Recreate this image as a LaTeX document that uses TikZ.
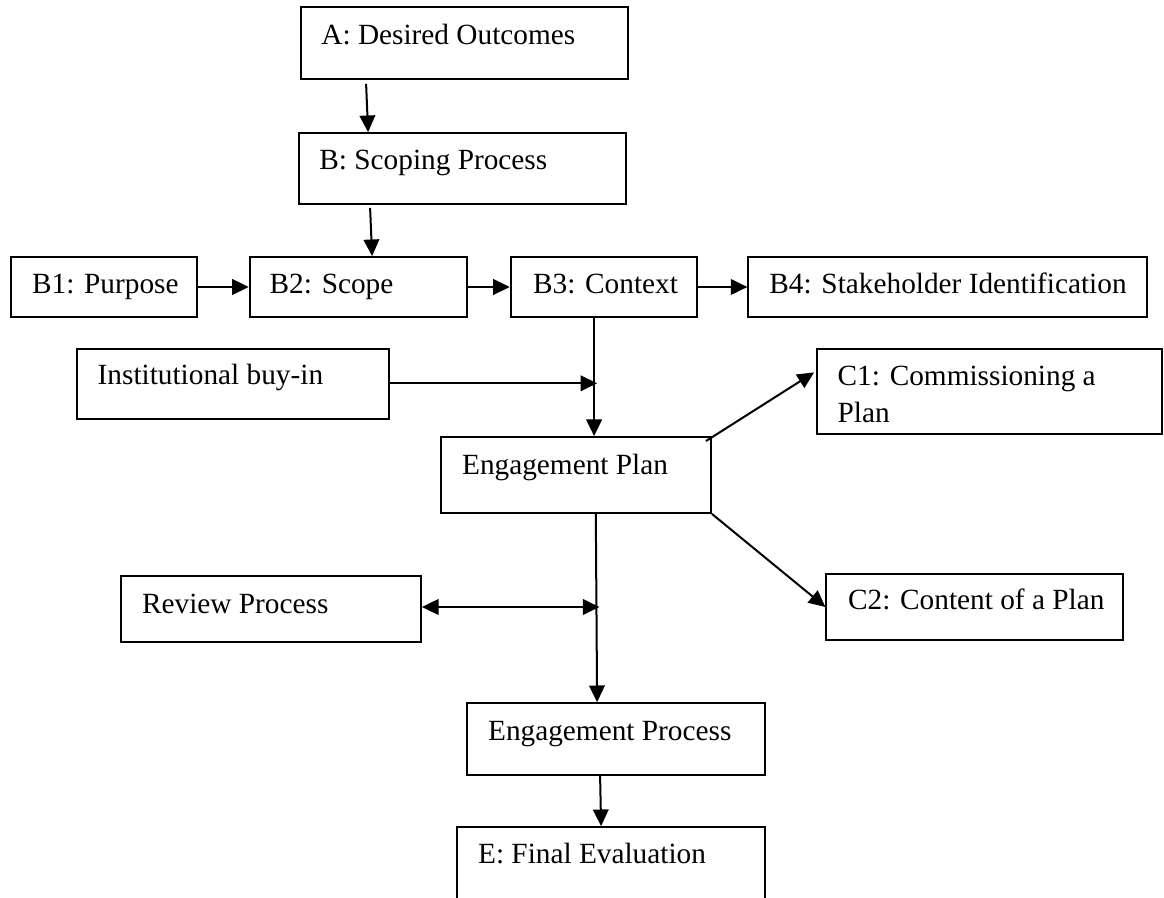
\documentclass[tikz,border=0pt]{standalone}
\usepackage{fontspec}
\setmainfont{Liberation Serif}
\usetikzlibrary{arrows.meta,fit,calc}
\begin{document}
\begin{tikzpicture}[x=0.5pt,y=-0.5pt,
  boxst/.style={draw=black,line width=0.9pt,inner sep=0pt,fill=none},
  txt/.style={anchor=base west,inner sep=0pt,font=\fontsize{14.65}{18.5}\selectfont,align=left},
  arr/.style={line width=1pt,-{Triangle[length=8.3pt,width=7.8pt]}},
  dbl/.style={line width=1pt,{Triangle[length=8.3pt,width=7.8pt]}-{Triangle[length=8.3pt,width=7.8pt]}}]
\useasboundingbox (0,0) rectangle (1164,898);
\clip (0,0) rectangle (1164,898);
% boxes
\node[boxst,fit={(301,7) (628,79)}] (A) {};
\node[boxst,fit={(299,133) (626,204)}] (B) {};
\node[boxst,fit={(10.7,257) (197,317)}] (B1) {};
\node[boxst,fit={(249.7,257) (467.3,317)}] (B2) {};
\node[boxst,fit={(510.7,257) (697,317)}] (B3) {};
\node[boxst,fit={(748.3,257) (1147.3,317)}] (B4) {};
\node[boxst,fit={(76.7,349.3) (389.3,419.3)}] (Inst) {};
\node[boxst,fit={(816.7,349) (1162,434)}] (C1) {};
\node[boxst,fit={(440.7,437) (711,513)}] (EP) {};
\node[boxst,fit={(826.3,574) (1123,640)}] (C2) {};
\node[boxst,fit={(120.7,576) (421,642)}] (Rev) {};
\node[boxst,fit={(466.7,703) (765,775)}] (EPr) {};
\node[boxst,fit={(456.7,827) (765,920)}] (E) {};
% texts
\node[txt] (tA) at (321,45) {A: Desired Outcomes};
\node[txt] (tB) at (319,170) {B: Scoping Process};
\node[txt] (tB1) at (31.7,294) {B1: Purpose};
\node[txt] (tB2) at (269.3,294) {B2: Scope};
\node[txt] (tB3) at (532.7,294) {B3: Context};
\node[txt] (tB4) at (769,294) {B4: Stakeholder Identification};
\node[txt] (tInst) at (97.3,385) {Institutional buy-in};
\node[txt] (tC1) at (837.3,423) {C1: Commissioning a\\Plan};
\node[txt] (tEP) at (461.7,474.3) {Engagement Plan};
\node[txt] (tC2) at (847.7,610) {C2: Content of a Plan};
\node[txt] (tRev) at (141.7,614) {Review Process};
\node[txt] (tEPr) at (487.7,740.7) {Engagement Process};
\node[txt] (tE) at (477.7,864) {E: Final Evaluation};
% connectors
\draw[arr] ([shift={(66,4)}]A.south west) -- ([shift={(70,0)}]B.north west);
\draw[arr] ([shift={(72,3)}]B.south west) -- ([shift={(123.3,0)}]B2.north west);
\draw[arr] (B1.east) -- (B2.west);
\draw[arr] (B2.east) -- (B3.west);
\draw[arr] (B3.east) -- (B4.west);
\coordinate (b3o) at ([shift={(84.3,0)}]B3.south west);
\draw[arr] (b3o) -- (b3o |- EP.north);
\draw[arr] ([yshift=0.5pt]Inst.east) -- ([xshift=1.5pt,yshift=0.5pt]Inst.east -| b3o);
\draw[arr] ([shift={(-6,5)}]EP.north east) -- ([shift={(-1.7,24.3)}]C1.north west);
\draw[arr] (EP.south east) -- (C2.west);
\coordinate (epo) at ([shift={(156,0)}]EP.south west);
\coordinate (epri) at ([shift={(131.3,0)}]EPr.north west);
\draw[arr] (epo) -- (epri);
\coordinate (mid) at ($(epo)!0.495!(epri)$);
\draw[dbl] ([yshift=1pt]Rev.east) -- ([xshift=1.5pt,yshift=1pt]Rev.east -| mid);
\draw[arr] ([shift={(134.3,0)}]EPr.south west) -- ([shift={(145.3,0)}]E.north west);
\end{tikzpicture}
\end{document}
